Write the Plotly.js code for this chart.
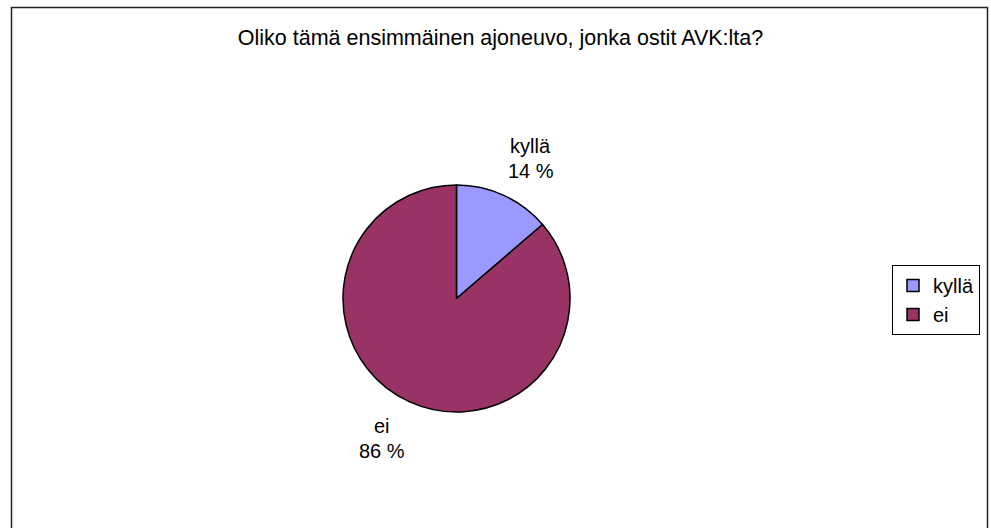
<!DOCTYPE html>
<html>
<head>
<meta charset="utf-8">
<script src="https://cdn.plot.ly/plotly-3.0.1.min.js"></script>
<style>html,body{margin:0;padding:0;background:#fff;}#chart{width:991px;height:528px;}</style>
</head>
<body>
<div id="chart"></div>
<script>
const titleText = "Oliko tämä ensimmäinen ajoneuvo, jonka ostit AVK:lta?";
const labels = ["kyllä", "ei"];
const values = [13.7, 86.3];
const colors = ["#9999FF", "#993366"];

const W = 991, H = 528;
const dom = {x: [343 / W, 570 / W], y: [(H - 412) / H, (H - 185) / H]};
const total = values.reduce((a, b) => a + b, 0);
const pct = values.map(v => Math.round(v / total * 100) + " %");

// label positions derived from slice mid-angles
const cxPx = (dom.x[0] + dom.x[1]) / 2 * W;
const cyPx = H - (dom.y[0] + dom.y[1]) / 2 * H;
const rPx = (dom.x[1] - dom.x[0]) * W / 2;
const annotations = [];
let cum = 0;
values.forEach((v, i) => {
  const mid = (cum + v / 2) / total * 2 * Math.PI;
  cum += v;
  const d = rPx * 1.36;
  const lx = cxPx + d * Math.sin(mid) + (i === 0 ? 10 : -10);
  const ly = cyPx - d * Math.cos(mid);
  annotations.push({x: lx / W, y: 1 - (ly - 12.5) / H, xref: 'paper', yref: 'paper', text: labels[i], showarrow: false, xanchor: 'center', yanchor: 'middle', font: {size: 20, color: '#000'}});
  annotations.push({x: lx / W, y: 1 - (ly + 12.5) / H, xref: 'paper', yref: 'paper', text: pct[i], showarrow: false, xanchor: 'center', yanchor: 'middle', font: {size: 20, color: '#000'}});
});

const data = [{
  type: 'pie',
  labels: labels,
  values: values,
  sort: false,
  direction: 'clockwise',
  rotation: 0,
  textinfo: 'none',
  hoverinfo: 'label+percent',
  marker: {colors: colors, line: {color: '#000', width: 1.5}},
  domain: dom
}];

const layout = {
  width: W, height: H,
  margin: {l: 0, r: 0, t: 0, b: 0},
  paper_bgcolor: '#fff',
  font: {family: 'Liberation Sans, Arial, sans-serif', size: 20, color: '#000'},
  title: {text: titleText, x: 500.5 / W, xanchor: 'center', y: 1 - 37 / H, yanchor: 'middle', font: {size: 21.5, color: '#000'}},
  showlegend: true,
  legend: {x: 980 / W, y: 1 - 265 / H, xanchor: 'right', yanchor: 'top', bordercolor: '#000', borderwidth: 1, bgcolor: '#fff', font: {size: 20}, itemwidth: 30},
  annotations: annotations,
  shapes: [{type: 'rect', xref: 'paper', yref: 'paper', x0: 11.5 / W, x1: 987.5 / W, y0: -0.02, y1: 1 - 7.5 / H, line: {color: '#222', width: 1.5}}]
};

Plotly.newPlot('chart', data, layout, {displayModeBar: false, staticPlot: true});
</script>
</body>
</html>
